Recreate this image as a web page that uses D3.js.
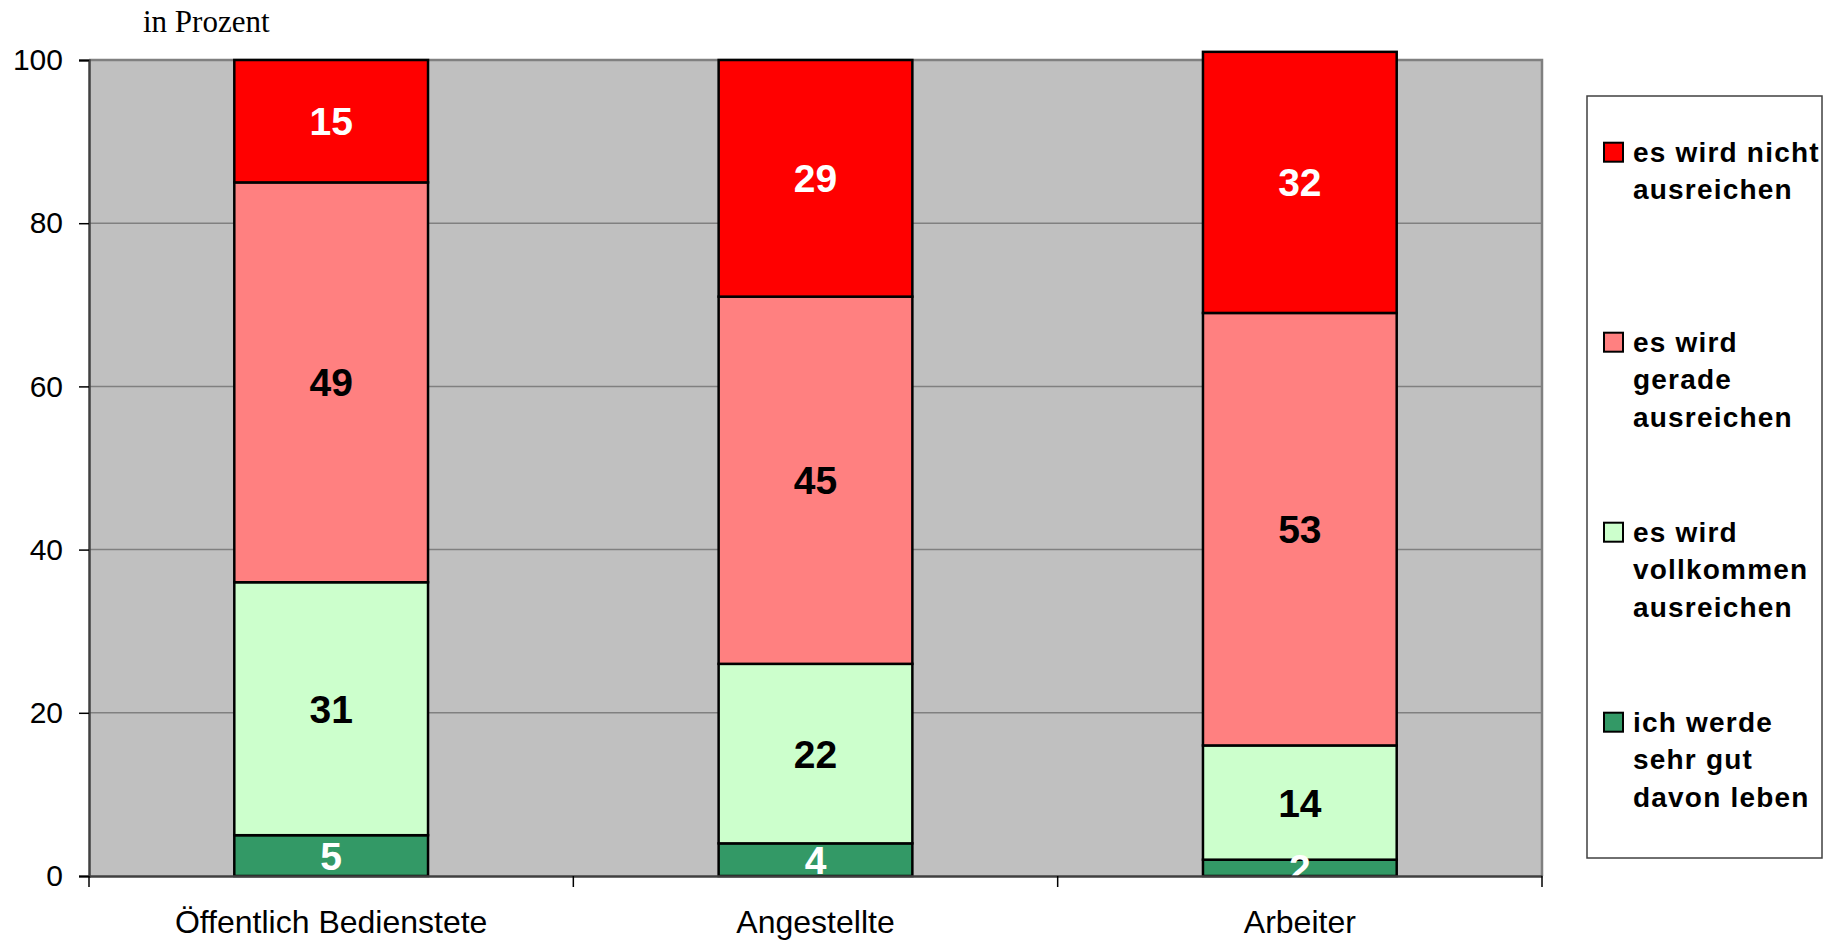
<!DOCTYPE html>
<html>
<head>
<meta charset="utf-8">
<script src="https://cdn.jsdelivr.net/npm/d3@7"></script>
<style>
  html, body { margin: 0; padding: 0; background: #ffffff; }
  svg { display: block; }
</style>
</head>
<body>
<svg id="chart" width="1834" height="940"></svg>
<script>
// ---- data ----
const categories = ["Öffentlich Bedienstete", "Angestellte", "Arbeiter"];
const seriesKeys = ["sehrGut", "vollkommen", "gerade", "nicht"]; // bottom -> top
const sehrGut    = [5, 4, 2];
const vollkommen = [31, 22, 14];
const gerade     = [49, 45, 53];
const nicht      = [15, 29, 32];
const legendLabels = [
  ["es wird nicht", "ausreichen"],
  ["es wird", "gerade", "ausreichen"],
  ["es wird", "vollkommen", "ausreichen"],
  ["ich werde", "sehr gut", "davon leben"]
];
const legendKeys = ["nicht", "gerade", "vollkommen", "sehrGut"];
const yTicks = [0, 20, 40, 60, 80, 100];
const yLabel = "in Prozent";

// ---- styles ----
const colors = { nicht: "#FF0000", gerade: "#FF8080", vollkommen: "#CCFFCC", sehrGut: "#339966" };
const labelColors = { nicht: "#ffffff", gerade: "#000000", vollkommen: "#000000", sehrGut: "#ffffff" };

const rows = categories.map((c, i) => ({
  cat: c, sehrGut: sehrGut[i], vollkommen: vollkommen[i], gerade: gerade[i], nicht: nicht[i]
}));

const svg = d3.select("#chart");
const plot = { left: 89, right: 1542, top: 60, bottom: 876 };

const y = d3.scaleLinear().domain([0, 100]).range([plot.bottom, plot.top]);
const xCat = d3.scaleBand().domain(categories).range([plot.left, plot.right]).padding(0);
const xBar = d3.scaleBand().domain(categories).range([plot.left, plot.right])
  .paddingInner(0.6).paddingOuter(0.3);

// plot background
svg.append("rect")
  .attr("x", plot.left).attr("y", plot.top)
  .attr("width", plot.right - plot.left).attr("height", plot.bottom - plot.top)
  .attr("fill", "#C0C0C0");

// gridlines
svg.append("g").selectAll("line")
  .data(yTicks.filter(t => t > 0 && t < 100))
  .join("line")
  .attr("x1", plot.left).attr("x2", plot.right)
  .attr("y1", d => y(d)).attr("y2", d => y(d))
  .attr("stroke", "#808080").attr("stroke-width", 1.5);

// plot border top & right
svg.append("path")
  .attr("d", `M${plot.left},${y(100)}H${plot.right}V${plot.bottom}`)
  .attr("fill", "none").attr("stroke", "#808080").attr("stroke-width", 2.5);

// stacked bars
const stack = d3.stack().keys(seriesKeys)(rows);
const layers = svg.append("g").selectAll("g")
  .data(stack).join("g")
  .attr("fill", d => colors[d.key]);

layers.selectAll("rect")
  .data(d => d.map(v => Object.assign(v, { key: d.key })))
  .join("rect")
  .attr("x", d => xBar(d.data.cat))
  .attr("width", xBar.bandwidth())
  .attr("y", d => y(d[1]))
  .attr("height", d => y(d[0]) - y(d[1]))
  .attr("stroke", "#000").attr("stroke-width", 2.5);

// bar value labels
const lbl = svg.append("g");
stack.forEach(layer => {
  layer.forEach(d => {
    lbl.append("text")
      .attr("x", xBar(d.data.cat) + xBar.bandwidth() / 2)
      .attr("y", (y(d[0]) + y(d[1])) / 2)
      .attr("dy", "0.36em")
      .attr("text-anchor", "middle")
      .attr("font-family", "Liberation Sans, Arial, sans-serif")
      .attr("font-weight", "bold")
      .attr("font-size", 39)
      .attr("fill", labelColors[layer.key])
      .text(d.data[layer.key]);
  });
});

// y axis
const yAxis = svg.append("g")
  .attr("transform", `translate(${plot.left},0)`)
  .call(d3.axisLeft(y).tickValues(yTicks).tickSize(10).tickPadding(16).tickFormat(d3.format("d")));
yAxis.select(".domain").attr("stroke", "#404040").attr("stroke-width", 2.5);
yAxis.selectAll(".tick line").attr("stroke", "#000").attr("stroke-width", 1.5);
yAxis.selectAll(".tick text")
  .attr("font-family", "Liberation Sans, Arial, sans-serif")
  .attr("font-size", 30).attr("fill", "#000");

// x axis (ticks at band boundaries, labels at band centres)
const xAxis = svg.append("g")
  .attr("transform", `translate(0,${plot.bottom})`)
  .call(d3.axisBottom(xCat).tickSize(0).tickPadding(34));
xAxis.select(".domain").attr("stroke", "#404040").attr("stroke-width", 2.5);
xAxis.selectAll(".tick text")
  .attr("font-family", "Liberation Sans, Arial, sans-serif")
  .attr("font-size", 32).attr("fill", "#000");
const boundaries = categories.map(c => xCat(c)).concat([xCat(categories[categories.length - 1]) + xCat.bandwidth()]);
svg.append("g").selectAll("line")
  .data(boundaries).join("line")
  .attr("x1", d => d).attr("x2", d => d)
  .attr("y1", plot.bottom).attr("y2", plot.bottom + 11)
  .attr("stroke", "#000").attr("stroke-width", 1.5);

// axis title
svg.append("text")
  .attr("x", 143).attr("y", 32)
  .attr("font-family", "Liberation Serif, Times New Roman, serif")
  .attr("font-size", 31).attr("fill", "#000")
  .text(yLabel);

// legend
const lg = svg.append("g");
lg.append("rect")
  .attr("x", 1587).attr("y", 96).attr("width", 235).attr("height", 762)
  .attr("fill", "#fff").attr("stroke", "#404040").attr("stroke-width", 1.5);
const entryY = d3.scalePoint().domain(legendKeys).range([161.7, 731.7]);
legendKeys.forEach((k, i) => {
  const by = entryY(k);
  lg.append("rect")
    .attr("x", 1604).attr("y", by - 19).attr("width", 19).attr("height", 19)
    .attr("fill", colors[k]).attr("stroke", "#000").attr("stroke-width", 2);
  const t = lg.append("text")
    .attr("font-family", "Liberation Sans, Arial, sans-serif")
    .attr("font-weight", "bold").attr("font-size", 28)
    .attr("letter-spacing", 1.2)
    .attr("fill", "#000");
  legendLabels[i].forEach((line, j) => {
    t.append("tspan").attr("x", 1633).attr("y", by + j * 37.4).text(line);
  });
});
</script>
</body>
</html>
